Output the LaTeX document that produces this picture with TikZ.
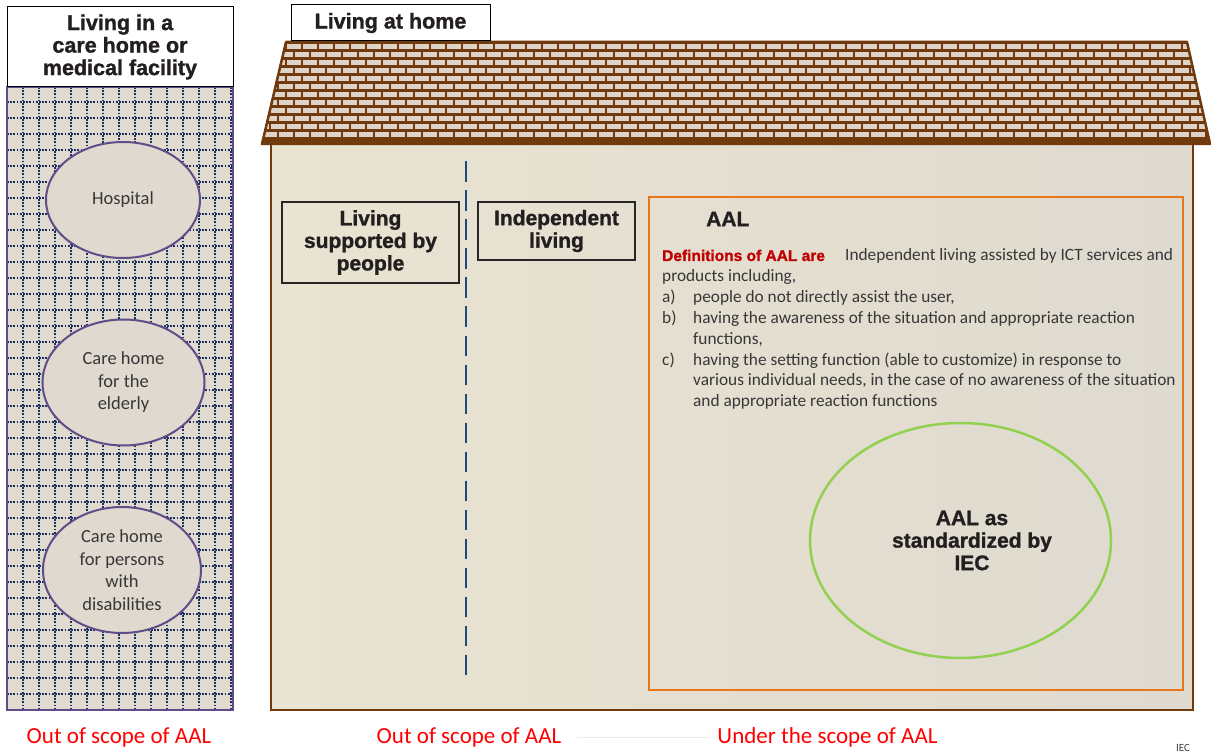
\documentclass[tikz,border=0pt]{standalone}
\usepackage{fontspec}
\setmainfont{Carlito}
\newfontfamily\hd{Liberation Sans}[BoldFeatures={FakeBold=1.3}]
\usetikzlibrary{shapes.geometric}
\definecolor{brn}{RGB}{112,58,12}
\definecolor{brick}{RGB}{221,212,199}
\definecolor{navy}{RGB}{25,48,96}
\definecolor{dashblue}{RGB}{31,73,125}
\definecolor{purp}{RGB}{96,76,136}
\definecolor{elfill}{RGB}{224,217,207}
\definecolor{bodyL}{RGB}{233,227,209}
\definecolor{bodyR}{RGB}{223,218,208}
\definecolor{colfill}{RGB}{224,218,207}
\definecolor{orng}{RGB}{232,118,26}
\definecolor{grn}{RGB}{146,208,80}
\definecolor{defred}{RGB}{192,0,0}
\definecolor{txt}{RGB}{35,31,32}
\definecolor{txtb}{RGB}{55,55,55}
\begin{document}
\begin{tikzpicture}[x=1pt,y=-1pt,
  titlebox/.style={draw=black,fill=white,line width=1pt,text=txt,inner sep=0pt,font=\hd\bfseries\fontsize{21.5}{22.5}\selectfont,align=center},
  labelbox/.style={draw=black!85,line width=1.2pt,text=txt,inner sep=0pt,font=\hd\bfseries\fontsize{21}{22.5}\selectfont,align=center},
  facility/.style={ellipse,draw=purp,fill=elfill,line width=2pt,inner sep=0pt,text=txtb,font=\fontsize{18.5}{22.5}\selectfont,align=center},
  boldtext/.style={text=txt,inner sep=0pt,font=\hd\bfseries\fontsize{21}{22.5}\selectfont,align=center},
  deftext/.style={text=txtb,inner sep=0pt,anchor=base west,font=\fontsize{17.3}{20.8}\selectfont},
  scopelabel/.style={text=red,inner sep=0pt,font=\fontsize{23}{26}\selectfont},
  griddots/.style={navy,line width=1.7pt,dash pattern=on 1.7pt off 1.5pt},
]
\useasboundingbox (0,0) rectangle (1211,754);
\fill[white] (0,0) rectangle (1211,754);

% ---------- left column ----------
\begin{scope}
\clip (7,87) rectangle (233,710);
\fill[colfill] (7,87) rectangle (233,710);
\foreach \y in {102,118,...,710} \draw[griddots] (7,\y) -- (233,\y);
\foreach \x in {23,39,...,232} \draw[griddots] (\x,87) -- (\x,710);
\end{scope}
\draw[purp,line width=2pt] (7,87) rectangle (233,710);
\node[titlebox,minimum width=226pt,minimum height=80pt] (care) at (120,47)
  {Living in a\\care home or\\medical facility};

\node[facility,minimum width=154pt,minimum height=116pt] (hosp) at (123,200) {Hospital};
\node[facility,minimum width=162pt,minimum height=126pt] (elder) at (123.5,382.5) {Care home\\for the\\elderly};
\node[facility,minimum width=158pt,minimum height=126pt] (disab) at (122,570) {Care home\\for persons\\with\\disabilities};

% ---------- house body ----------
\shade[left color=bodyL,right color=bodyR] (271,144) rectangle (1193,710);
\draw[brn,line width=2pt] (271,144) rectangle (1193,710);

% ---------- roof ----------
\fill[brn] (286,42) -- (1187,42) -- (1211,144) -- (262,144) -- cycle;
\begin{scope}
\clip (286,42) -- (1187,42) -- (1211,144) -- (262,144) -- cycle;
\foreach \r in {0,...,11} {
  \pgfmathsetmacro\yc{46.7+7.95*\r}
  \pgfmathsetmacro\off{mod(\r,2)*8}
  \foreach \k in {0,...,62} {
    \fill[brick] ({255.3+\off+16*\k},{\yc-2.6}) rectangle ++(13.5,5.2);
  }
}
\end{scope}
\draw[brn,line width=2.5pt,line join=round] (286,42) -- (1187,42) -- (1210,144) -- (262,144) -- cycle;

\node[titlebox,minimum width=199pt,minimum height=36pt] (home) at (390.5,23) {Living at home};

% ---------- inside the house ----------
\coordinate (dtop) at (466,161.5);
\coordinate (dbot) at (466,681);
\draw[dashblue,line width=2.7pt,dash pattern=on 20.5pt off 8.5pt] (dtop) -- (dbot);

\node[labelbox,minimum width=177pt,minimum height=81pt] (people) at (370.5,242.5) {Living\\supported by\\people};
\node[labelbox,minimum width=157pt,minimum height=58pt] (indep) at (556.5,231) {Independent\\living};

\draw[orng,line width=2pt] (649,197) rectangle (1183,690);
\node[boldtext,anchor=west] (aal) at (706,219) {AAL};

\node[text=defred,inner sep=0pt,anchor=base west,font=\hd\bfseries\fontsize{15.5}{17}\selectfont] (defs) at (662,261) {Definitions of AAL are};
\node[deftext] (l1) at (845,261) {Independent living assisted by ICT services and};
\node[deftext] (l2) at (662,281.8) {products including,};
\node[deftext] (la) at (662,302.6) {a)};
\node[deftext] (l3) at (693,302.6) {people do not directly assist the user,};
\node[deftext] (lb) at (662,323.4) {b)};
\node[deftext] (l4) at (693,323.4) {having the awareness of the situation and appropriate reaction};
\node[deftext] (l5) at (693,344.2) {functions,};
\node[deftext] (lc) at (662,365) {c)};
\node[deftext] (l6) at (693,365) {having the setting function (able to customize) in response to};
\node[deftext] (l7) at (693,385.8) {various individual needs, in the case of no awareness of the situation};
\node[deftext] (l8) at (693,406.6) {and appropriate reaction functions};

\node[ellipse,draw=grn,line width=2.5pt,minimum width=301pt,minimum height=235pt] (std) at (960.5,540.5) {};
\node[boldtext] (stdtext) at (972,540.5) {AAL as\\standardized by\\IEC};

% ---------- bottom labels ----------
\node[scopelabel] (out1) at (119,737) {Out of scope of AAL};
\node[scopelabel] (out2) at (469,737) {Out of scope of AAL};
\node[scopelabel] (under) at (827.5,737) {Under the scope of AAL};
\draw[black!8,line width=1pt,shorten <=16pt,shorten >=7pt] (out2.east) -- (under.west);

\node[text=black!75,inner sep=0pt,anchor=north west,font=\fontsize{11}{12}\selectfont] (iec) at (1176,744) {IEC};
\end{tikzpicture}
\end{document}
